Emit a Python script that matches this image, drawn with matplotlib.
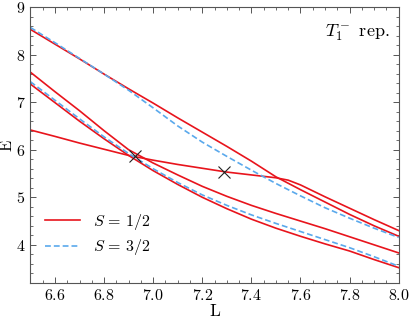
import matplotlib
matplotlib.use("Agg")
import matplotlib.pyplot as plt
from matplotlib.ticker import MultipleLocator

plt.rcParams['font.family'] = 'serif'
plt.rcParams['font.serif'] = ['cmr10']
plt.rcParams['mathtext.fontset'] = 'cm'
plt.rcParams['axes.formatter.use_mathtext'] = True
plt.rcParams['font.size'] = 11.5

# L values for each level
L = [6.5, 6.6, 6.7, 6.8, 6.9, 7.0, 7.1, 7.2, 7.3, 7.4, 7.5, 7.6, 7.7, 7.8, 7.9, 8.0]

# S = 1/2 levels
red_top = [8.53, 8.22, 7.91, 7.59, 7.28, 6.98, 6.67, 6.37, 6.07, 5.76, 5.43, 5.16, 4.90, 4.64, 4.40, 4.18]
red_2 = [7.63, 7.22, 6.82, 6.40, 6.00, 5.72, 5.47, 5.23, 5.02, 4.83, 4.66, 4.50, 4.34, 4.17, 4.00, 3.83]
red_3 = [7.38, 6.99, 6.60, 6.23, 5.88, 5.56, 5.27, 5.00, 4.76, 4.54, 4.35, 4.18, 4.02, 3.87, 3.69, 3.52]
L_flat = [6.5, 6.6, 6.7, 6.8, 6.9, 7.0, 7.1, 7.2, 7.3, 7.4, 7.5, 7.55, 7.6, 7.7, 7.8, 7.9, 8.0]
red_flat = [6.415, 6.28, 6.14, 6.01, 5.88, 5.78, 5.69, 5.61, 5.53, 5.47, 5.41, 5.36, 5.26, 5.01, 4.77, 4.53, 4.30]

# S = 3/2 levels
blue_top = [8.57, 8.25, 7.92, 7.59, 7.25, 6.88, 6.50, 6.16, 5.86, 5.57, 5.29, 5.03, 4.78, 4.56, 4.35, 4.155]
blue_low = [7.43, 7.04, 6.65, 6.27, 5.92, 5.60, 5.31, 5.05, 4.83, 4.63, 4.45, 4.28, 4.11, 3.94, 3.75, 3.55]

# marked points
cross_L = [6.925, 7.287]
cross_E = [5.86, 5.54]

red = '#e8141c'
blue = '#5aa9ec'

fig, ax = plt.subplots(figsize=(4.11, 3.20), dpi=100)
fig.subplots_adjust(left=0.074, right=0.970, bottom=0.116, top=0.978)

ax.plot(L, red_top, color=red, lw=1.2, label=r'$S\,=\,1/2$')
ax.plot(L, red_2, color=red, lw=1.2)
ax.plot(L, red_3, color=red, lw=1.2)
ax.plot(L_flat, red_flat, color=red, lw=1.2)
ax.plot(L, blue_top, color=blue, lw=1.2, ls=(0, (3.5, 1.8)), label=r'$S\,=\,3/2$')
ax.plot(L, blue_low, color=blue, lw=1.2, ls=(0, (3.5, 1.8)))
ax.plot(cross_L, cross_E, ls='none', marker='x', ms=9, mew=0.8, color='#222222')

ax.set_xlim(6.5, 8.0)
ax.set_ylim(3.2, 9.0)
ax.xaxis.set_major_locator(MultipleLocator(0.2))
ax.xaxis.set_minor_locator(MultipleLocator(0.05))
ax.yaxis.set_major_locator(MultipleLocator(1))
ax.yaxis.set_minor_locator(MultipleLocator(0.2))
ax.tick_params(which='both', direction='in', top=True, right=True, color='#555555')
ax.tick_params(which='major', length=4.5, width=0.7, labelsize=11.5)
ax.tick_params(which='minor', length=2.5, width=0.6)
for sp in ax.spines.values():
    sp.set_color('#555555')
    sp.set_linewidth(0.8)

ax.set_xlabel('L', labelpad=1, fontsize=12.5)
ax.set_ylabel('E', labelpad=1, fontsize=12)
ax.text(0.975, 0.945, r'$T_1^-$ rep.', transform=ax.transAxes, ha='right', va='top', fontsize=13)

ax.legend(loc='lower left', frameon=False, handlelength=2.2, fontsize=11.5,
          labelspacing=0.35, bbox_to_anchor=(0.0, 0.04))

fig.savefig('out.png', dpi=100)
